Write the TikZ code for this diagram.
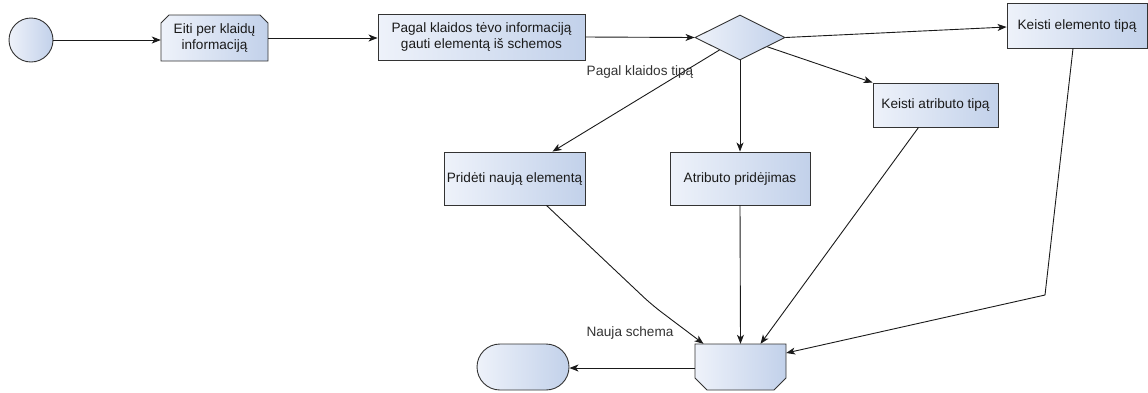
\documentclass[tikz,border=0pt]{standalone}
\usepackage{fontspec}
\setmainfont{Liberation Sans}
\usetikzlibrary{shapes.geometric,arrows.meta}
\definecolor{fillL}{HTML}{EEF2FA}
\definecolor{fillR}{HTML}{C2D1EA}
\definecolor{edge}{HTML}{333333}
\definecolor{ink}{HTML}{1A1A1A}
\begin{document}
\begin{tikzpicture}[x=1pt,y=-1pt,
  font=\fontsize{13.6}{15.5}\selectfont,
  shade box/.style={left color=fillL,right color=fillR,draw=edge,line width=0.9pt},
  actbox/.style={shade box,rectangle,inner sep=2pt,align=center,text=ink},
  textbox/.style={rectangle,inner sep=0pt,align=center,text=ink},
  flow/.style={draw=ink,line width=0.9pt,-{Stealth[length=9pt,width=7pt,inset=2.5pt]}},
  lbl/.style={text=edge,inner sep=0pt}]
\useasboundingbox (0,0) rectangle (1148,392);

% start and final states
\node[shade box,circle,minimum size=44pt,inner sep=0pt] (start) at (31,40) {};
\node[shade box,rectangle,rounded corners=23pt,minimum width=92pt,minimum height=46pt] (term) at (523,367) {};

% loop start (top corners cut)
\shadedraw[shade box] (161,61) -- (161,23) -- (169,15) -- (260,15) -- (268,23) -- (268,61) -- cycle;
\node[textbox,minimum width=107pt,minimum height=46pt] (n1) at (214.5,38) {Eiti per klaidų\\informaciją};

% loop end (bottom corners cut)
\shadedraw[shade box] (695,344) -- (786,344) -- (786,378) -- (774,390) -- (707,390) -- (695,378) -- cycle;
\node[textbox,minimum width=91pt,minimum height=46pt] (end) at (740.5,367) {};

\node[actbox,minimum width=207pt,minimum height=46pt] (n2) at (481.5,37) {Pagal klaidos tėvo informaciją\\gauti elementą iš schemos};
\node[shade box,diamond,aspect=2,minimum width=90pt,minimum height=45pt,inner sep=0pt] (dec) at (740,37.5) {};
\node[actbox,minimum width=140pt,minimum height=45pt] (ke) at (1077,25.5) {Keisti elemento tipą};
\node[actbox,minimum width=125pt,minimum height=44pt] (ka) at (935.5,105) {Keisti atributo tipą};
\node[actbox,minimum width=141pt,minimum height=53pt] (pn) at (514.5,178.5) {Pridėti naują elementą};
\node[actbox,minimum width=140pt,minimum height=53pt] (ap) at (740,178.5) {Atributo pridėjimas};

% bend points
\coordinate (b1) at (652,305);
\coordinate (b2) at (1045,295);

% connectors
\draw[flow] (start) -- (start -| n1.west);
\draw[flow] (n1.east) -- (n1.east -| n2.west);
\draw[flow] (n2.east) -- (dec.west);
\draw[flow] (dec.east) -- ([yshift=-1.5pt]ke.west);
\draw[flow] (dec) -- (ka.north west);
\draw[flow] (dec) -- ([xshift=38pt]pn.north);
\draw[flow] (dec.south) -- (ap.north);
\draw[flow,rounded corners=12pt] ([xshift=32pt]pn.south) -- (b1) -- ([xshift=-37pt]end.north);
\draw[flow] (ap.south) -- (end.north);
\draw[flow] ([xshift=-17pt]ka.south) -- ([xshift=20pt]end.north);
\draw[flow] ([xshift=-4pt]ke.south) -- (b2) -- ([yshift=14pt]end.east);
\draw[flow] ([yshift=-1pt]end.west) -- ([yshift=-1pt]term.east);

% guard labels
\node[lbl] (g1) at (640,72) {Pagal klaidos tipą};
\node[lbl] (g2) at (630,333) {Nauja schema};
\end{tikzpicture}
\end{document}
